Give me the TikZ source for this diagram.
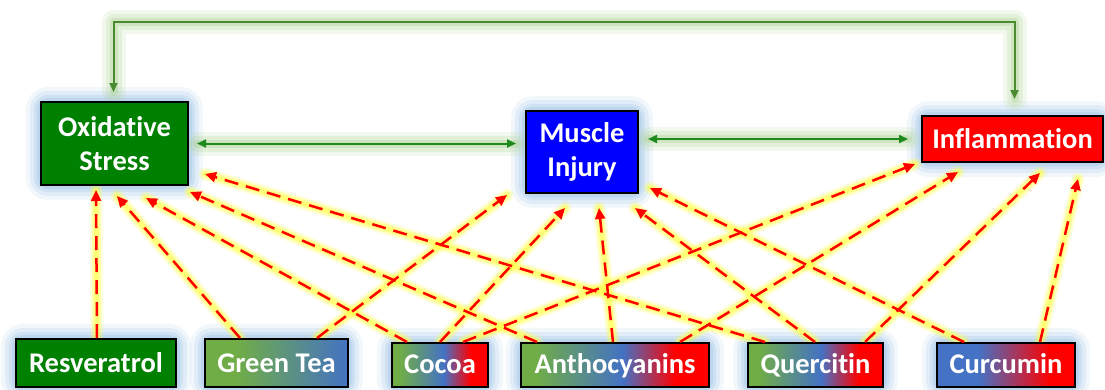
\documentclass[tikz,border=0pt]{standalone}
\usepackage{fontspec}
\setmainfont{Carlito}[Ligatures=NoCommon]
\usetikzlibrary{arrows.meta,calc}
\definecolor{sgreen}{HTML}{70AD47}
\definecolor{sblue}{HTML}{4472C4}
\definecolor{sred}{HTML}{FF0000}
\definecolor{dgreen}{HTML}{008000}
\definecolor{mblue}{HTML}{0000FF}
\definecolor{glowblue}{HTML}{9DC3E6}
\definecolor{glowyel}{HTML}{FFFF40}
\definecolor{glowgreen}{HTML}{A9D18E}
\definecolor{linkgreen}{HTML}{1E8A1E}
\definecolor{loopgreen}{HTML}{4A8A30}
\pgfdeclarehorizontalshading{gbr}{100bp}{color(0bp)=(sgreen); color(29bp)=(sgreen); color(52bp)=(sblue); color(66bp)=(sred); color(100bp)=(sred)}
\pgfdeclarehorizontalshading{gb}{100bp}{color(0bp)=(sgreen); color(36bp)=(sgreen); color(75bp)=(sblue); color(100bp)=(sblue)}
\pgfdeclarehorizontalshading{br}{100bp}{color(0bp)=(sblue); color(40bp)=(sblue); color(66bp)=(sred); color(100bp)=(sred)}
\pgfdeclarelayer{bg}
\pgfsetlayers{bg,main}
\tikzset{
  box/.style={draw=black, line width=2pt, text=white, inner sep=0pt,
    font=\bfseries\fontsize{28.5}{34}\selectfont, align=center},
  lowbox/.style={box, text height=19.5pt, text depth=#1},
  dasharrow/.style={draw=sred, line width=2.5pt, dash pattern=on 14pt off 8pt,
    -{Triangle[length=11pt,width=10pt]}},
  linkarrow/.style={draw=linkgreen, line width=2pt,
    {Triangle[length=9pt,width=8pt]}-{Triangle[length=9pt,width=8pt]}},
  looparrow/.style={draw=loopgreen, line width=2pt,
    {Triangle[length=9pt,width=8pt]}-{Triangle[length=9pt,width=8pt]}},
}
\newcommand{\dconn}[2]{%
  \begin{pgfonlayer}{bg}
    \draw[glowyel, line width=13pt, opacity=0.18, line cap=round] #1 -- #2;
    \draw[glowyel, line width=9pt, opacity=0.3, line cap=round] #1 -- #2;
    \draw[glowyel, line width=5pt, opacity=0.5, line cap=round] #1 -- #2;
  \end{pgfonlayer}
  \draw[dasharrow] #1 -- #2;
}
\newcommand{\gglow}[1]{%
  \begin{pgfonlayer}{bg}
    \draw[glowgreen, line width=24pt, opacity=0.15, line join=round, line cap=round] #1;
    \draw[glowgreen, line width=16pt, opacity=0.22, line join=round, line cap=round] #1;
    \draw[glowgreen, line width=8pt, opacity=0.35, line join=round, line cap=round] #1;
  \end{pgfonlayer}
}
\begin{document}
\begin{tikzpicture}[x=1pt,y=-1pt]
\useasboundingbox (0,0) rectangle (1105,389);
% top nodes
\node[box, fill=dgreen, minimum width=147pt, minimum height=83pt] (os) at (114.5,143.5) {Oxidative\\Stress};
\node[box, fill=mblue, minimum width=112pt, minimum height=82pt] (mi) at (582,152) {Muscle\\Injury};
\node[box, fill=sred, minimum width=181pt, minimum height=46pt] (inf) at (1012.5,139) {Inflammation};
% bottom nodes
\node[lowbox=0pt, fill=dgreen, minimum width=160pt, minimum height=48pt] (res) at (96,363) {Resveratrol};
\node[lowbox=0pt, shading=gb, minimum width=143pt, minimum height=48pt] (gt) at (276.5,363) {Green Tea};
\node[lowbox=2pt, shading=gbr, minimum width=96pt, minimum height=44pt] (co) at (440,365) {Cocoa};
\node[lowbox=2pt, shading=gbr, minimum width=188pt, minimum height=44pt] (an) at (615,365) {Anthocyanins};
\node[lowbox=2pt, shading=gbr, minimum width=135pt, minimum height=44pt] (qu) at (815.5,365) {Quercitin};
\node[lowbox=2pt, shading=br, minimum width=138pt, minimum height=44pt] (cu) at (1006,365) {Curcumin};
% box glows
\begin{pgfonlayer}{bg}
\foreach \n in {os,mi,inf,res,gt,co,an,qu,cu}{
  \foreach \w/\o in {28/0.14,20/0.2,12/0.28,6/0.35}{
    \draw[glowblue, line width=\w pt, opacity=\o, rounded corners=8pt] (\n.north west) rectangle (\n.south east);
  }
}
\end{pgfonlayer}
% top loop
\coordinate (lt) at ($(os.north)+(-1,-9)$);
\coordinate (rt) at ($(inf.north)+(2,-16)$);
\gglow{(lt) -- ++(0,-70) -| (rt)}
\draw[looparrow] (lt) -- ++(0,-70) -| (rt);
% horizontal links
\coordinate (a1) at ($(os.east)+(8,0)$);
\coordinate (a2) at ($(os.east -| mi.west)+(-9,0)$);
\coordinate (b1) at ($(inf.west -| mi.east)+(9,0)$);
\coordinate (b2) at ($(inf.west)+(-13,0)$);
\gglow{(a1) -- (a2)}
\gglow{(b1) -- (b2)}
\draw[linkarrow] (a1) -- (a2);
\draw[linkarrow] (b1) -- (b2);
% dashed arrows
\dconn{($(res.north west)+(82,0)$)}{($(os.south west)+(56,4)$)}
\dconn{($(gt.north west)+(36,0)$)}{($(os.south west)+(77,10)$)}
\dconn{($(gt.north west)+(113,0)$)}{($(mi.south west)+(-18,1)$)}
\dconn{($(co.north west)+(16,0)$)}{($(os.south west)+(106,12)$)}
\dconn{($(co.north west)+(49,0)$)}{($(mi.south west)+(40,14)$)}
\dconn{($(co.north west)+(72,0)$)}{($(inf.south west)+(-6,1)$)}
\dconn{($(an.north west)+(17,0)$)}{($(os.south west)+(150,6)$)}
\dconn{($(an.north west)+(93,0)$)}{($(mi.south west)+(74,14)$)}
\dconn{($(an.north west)+(160,0)$)}{($(inf.south west)+(37,9)$)}
\dconn{($(qu.north west)+(18,0)$)}{($(os.south east)+(16,-12)$)}
\dconn{($(qu.north west)+(68,0)$)}{($(mi.south west)+(110,14)$)}
\dconn{($(qu.north west)+(118,0)$)}{($(inf.south west)+(119,10)$)}
\dconn{($(cu.north west)+(28,0)$)}{($(mi.south east)+(11,-6)$)}
\dconn{($(cu.north west)+(104,0)$)}{($(inf.south west)+(157,16)$)}
\end{tikzpicture}
\end{document}
